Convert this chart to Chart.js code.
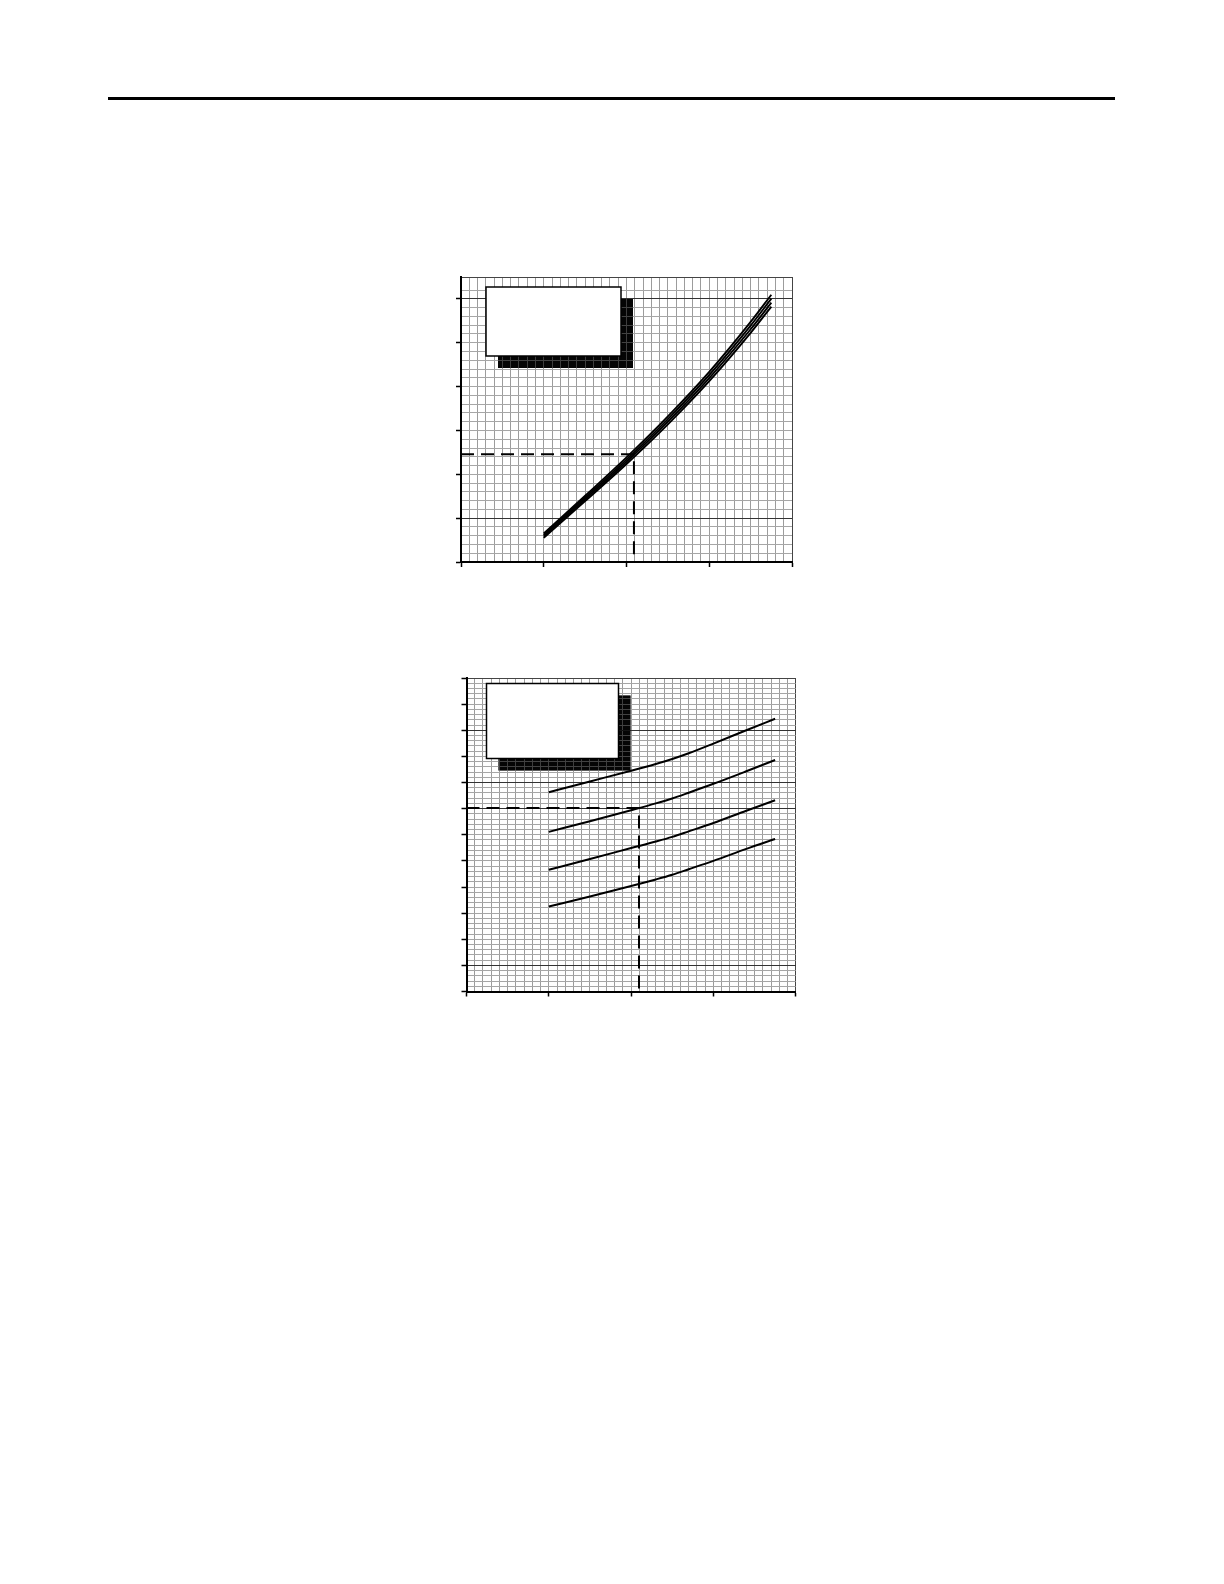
<!DOCTYPE html>
<html lang="en">
<head>
    <meta charset="UTF-8">
    <title>Charts</title>
    <script src="https://cdn.jsdelivr.net/npm/chart.js"></script>
    <style>
        body { margin: 0; background: #fff; }
        .page { position: relative; width: 1224px; height: 1584px; background: #fff; }
        .rule { position: absolute; left: 108px; top: 97px; width: 1007px; height: 3px; background: #000; }
        canvas { position: absolute; }
        #chart1 { left: 440px; top: 260px; }
        #chart2 { left: 440px; top: 660px; }
    </style>
</head>
<body>
<div class="page">
    <div class="rule"></div>
    <canvas id="chart1" width="370" height="320"></canvas>
    <canvas id="chart2" width="370" height="345"></canvas>
</div>

<script>
    // upper chart: four nearly overlapping curves
    const bandX = [10, 15, 20, 25, 30, 35, 37.5];
    const band1 = [6.5, 15.1, 23.85, 33.2, 43.35, 54.75, 60.95];
    const band2 = [6.17, 14.7, 23.35, 32.6, 42.65, 53.92, 60.05];
    const band3 = [5.83, 14.3, 22.85, 32.0, 41.95, 53.08, 59.15];
    const band4 = [5.5, 13.9, 22.35, 31.4, 41.25, 52.25, 58.25];
    const guide1X = [0, 20.9, 20.9];
    const guide1Y = [24.6, 24.6, 0];

    // lower chart: four separate curves
    const curveX = [10, 15, 20, 23, 25, 27, 30, 34, 37.5];
    const curveA = [76.3, 80.4, 84.5, 87.1, 89.0, 91.2, 94.9, 100.0, 104.4];
    const curveB = [61.1, 65.2, 69.4, 72.0, 73.9, 76.1, 79.5, 84.3, 88.6];
    const curveC = [46.6, 50.7, 54.9, 57.4, 59.2, 61.3, 64.5, 69.2, 73.2];
    const curveD = [32.5, 36.4, 40.4, 42.9, 44.7, 46.8, 50.0, 54.6, 58.4];
    const guide2X = [0, 20.96, 20.96];
    const guide2Y = [70.2, 70.2, 0];

    const darkY1 = [10, 60];
    const darkY2 = [10, 70, 80, 100];

    function pts(xs, ys) {
        return xs.map((x, i) => ({ x: x, y: ys[i] }));
    }

    function curve(xs, ys, w) {
        return {
            data: pts(xs, ys),
            borderColor: '#000',
            borderWidth: w,
            pointRadius: 0,
            cubicInterpolationMode: 'monotone',
            fill: false
        };
    }

    function guide(xs, ys) {
        return {
            data: pts(xs, ys),
            borderColor: '#000',
            borderWidth: 2,
            borderDash: [13, 7],
            pointRadius: 0,
            tension: 0,
            fill: false
        };
    }

    // white box with black drop shadow (empty legend panel)
    function panel(dx, dy, w, h) {
        return {
            id: 'panel',
            beforeDraw(chart) {
                const a = chart.chartArea, c = chart.ctx;
                c.save();
                c.fillStyle = '#0d0d0d';
                c.fillRect(a.left + dx + 12, a.top + dy + 12, w, h);
                c.restore();
            },
            beforeDatasetsDraw(chart) {
                // dim the grid lines that cross the shadow
                const a = chart.chartArea, c = chart.ctx;
                c.save();
                c.fillStyle = 'rgba(0,0,0,0.6)';
                c.fillRect(a.left + dx + 12, a.top + dy + 12, w, h);
                c.restore();
            },
            afterDraw(chart) {
                const a = chart.chartArea, c = chart.ctx;
                c.save();
                c.fillStyle = '#fff';
                c.fillRect(a.left + dx, a.top + dy, w, h);
                c.strokeStyle = '#000';
                c.lineWidth = 1.5;
                c.strokeRect(a.left + dx, a.top + dy, w, h);
                c.restore();
            }
        };
    }

    function axis(max, step, major, dark, isY) {
        return {
            type: 'linear',
            position: isY ? 'left' : 'bottom',
            min: 0,
            max: max,
            afterFit(s) { if (isY) s.width = 10; else s.height = 10; },
            ticks: { display: false, stepSize: step },
            border: { display: true, color: '#000', width: 2 },
            grid: {
                drawTicks: true,
                tickLength: 5,
                tickWidth: 1.5,
                tickColor: ctx => (ctx.tick && ctx.tick.value % major === 0) ? '#000' : 'rgba(0,0,0,0)',
                color: ctx => {
                    const v = ctx.tick ? ctx.tick.value : 0;
                    if (v === max) return '#444';
                    if (dark.indexOf(v) >= 0) return '#333';
                    return isY ? '#a6a6a6' : '#9c9c9c';
                },
                lineWidth: 1
            }
        };
    }

    function opts(xMax, yMax, darkY, pad) {
        return {
            responsive: false,
            animation: false,
            layout: { padding: pad },
            plugins: { legend: { display: false }, tooltip: { enabled: false } },
            scales: {
                x: axis(xMax, 1, 10, [], false),
                y: axis(yMax, 2, 10, darkY, true)
            }
        };
    }

    new Chart(document.getElementById('chart1'), {
        type: 'line',
        data: {
            datasets: [
                curve(bandX, band1, 1.9),
                curve(bandX, band2, 1.9),
                curve(bandX, band3, 1.9),
                curve(bandX, band4, 1.9),
                guide(guide1X, guide1Y)
            ]
        },
        options: opts(40, 65, darkY1, { left: 11, top: 17, right: 18, bottom: 8 }),
        plugins: [panel(25, 10, 135, 69)]
    });

    new Chart(document.getElementById('chart2'), {
        type: 'line',
        data: {
            datasets: [
                curve(curveX, curveA, 2),
                curve(curveX, curveB, 2),
                curve(curveX, curveC, 2),
                curve(curveX, curveD, 2),
                guide(guide2X, guide2Y)
            ]
        },
        options: opts(40, 120, darkY2, { left: 16.5, top: 18, right: 14.3, bottom: 3.5 }),
        plugins: [panel(20, 5.5, 132, 75)]
    });
</script>
</body>
</html>
